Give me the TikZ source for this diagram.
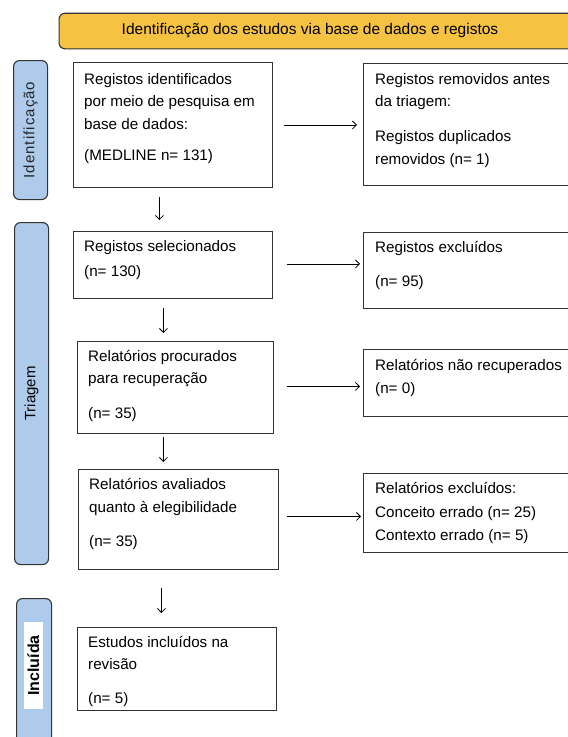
\documentclass[tikz,border=0pt]{standalone}
\usepackage{fontspec}
\setmainfont{Liberation Sans}
\newfontfamily\spacedfont[LetterSpace=7]{Liberation Sans}
\usetikzlibrary{arrows.meta,calc}
\definecolor{bannerfill}{HTML}{F5C242}
\definecolor{sidefill}{HTML}{AECBEB}
\definecolor{edge}{HTML}{333333}
\begin{document}
\begin{tikzpicture}[x=1pt,y=-1pt,
  box/.style={draw=edge, line width=0.9pt, rectangle, anchor=north west, inner sep=0pt, fill=white},
  sidebox/.style={draw=edge, line width=1.1pt, rounded corners=6pt, fill=sidefill},
  txt/.style={anchor=base west, inner sep=0pt, font=\fontsize{15.2}{18}\selectfont},
  sidetxt/.style={rotate=90, inner sep=0pt, font=\fontsize{15}{18}\selectfont},
  arr/.style={-{Straight Barb[length=4pt,width=8pt]}, line width=0.8pt, draw=black}]
\clip (0,0) rectangle (568,737);
\fill[white] (0,0) rectangle (568,737);
% banner
\node[sidebox, fill=bannerfill, anchor=north west, minimum width=560pt, minimum height=35.6pt, inner sep=0pt] (banner) at (58.5,12.7) {};
\node[txt, anchor=center, font=\fontsize{15.5}{18}\selectfont] (bannertxt) at (310,30.5) {Identificação dos estudos via base de dados e registos};
% side labels
\node[sidebox, anchor=north west, minimum width=34pt, minimum height=139pt, inner sep=0pt] (sideI) at (13,60) {};
\node[sidetxt, font=\fontsize{15}{18}\spacedfont, text=black!85] at (sideI.center) {Identificação};
\node[sidebox, anchor=north west, minimum width=34pt, minimum height=342pt, inner sep=0pt] (sideT) at (14,222) {};
\node[sidetxt] at (sideT.center) {Triagem};
\node[sidebox, anchor=north west, minimum width=35pt, minimum height=170pt, inner sep=0pt] (sideN) at (16,598) {};
\node[fill=white, inner sep=0pt, minimum width=18.5pt, minimum height=87pt] (sideNw) at (33.25,665.5) {};
\node[sidetxt, font=\fontsize{16}{18}\selectfont\bfseries] at (sideNw.center) {Incluída};
% boxes
\node[box, minimum width=199pt, minimum height=125pt] (L1) at (73,62) {};
\node[box, minimum width=240pt, minimum height=122pt] (R1) at (363,63) {};
\node[box, minimum width=199pt, minimum height=67pt] (L2) at (73,231) {};
\node[box, minimum width=240pt, minimum height=76pt] (R2) at (363,232) {};
\node[box, minimum width=196pt, minimum height=92pt] (L3) at (77,341) {};
\node[box, minimum width=240pt, minimum height=67pt] (R3) at (363,349) {};
\node[box, minimum width=200pt, minimum height=100pt] (L4) at (78,469) {};
\node[box, minimum width=240pt, minimum height=79pt] (R4) at (363,473) {};
\node[box, minimum width=199pt, minimum height=83pt] (L5) at (77,627) {};
% texts
\node[txt] at (84,84) {Registos identificados};
\node[txt] at (84,106) {por meio de pesquisa em};
\node[txt] at (84,129) {base de dados:};
\node[txt] at (84,160) {(MEDLINE n= 131)};
\node[txt] at (375,84) {Registos removidos antes};
\node[txt] at (375,106) {da triagem:};
\node[txt] at (375,141) {Registos duplicados};
\node[txt] at (375,164) {removidos (n= 1)};
\node[txt] at (84,251) {Registos selecionados};
\node[txt] at (84,276) {(n= 130)};
\node[txt] at (375,252) {Registos excluídos};
\node[txt] at (375,286) {(n= 95)};
\node[txt] at (88,361) {Relatórios procurados};
\node[txt] at (88,383) {para recuperação};
\node[txt] at (88,418) {(n= 35)};
\node[txt] at (375,370) {Relatórios não recuperados};
\node[txt] at (375,393) {(n= 0)};
\node[txt] at (89,489) {Relatórios avaliados};
\node[txt] at (89,512) {quanto à elegibilidade};
\node[txt] at (89,546) {(n= 35)};
\node[txt] at (375,493) {Relatórios excluídos:};
\node[txt] at (375,517) {Conceito errado (n= 25)};
\node[txt] at (375,540) {Contexto errado (n= 5)};
\node[txt] at (88,647) {Estudos incluídos na};
\node[txt] at (88,669) {revisão};
\node[txt] at (88,703) {(n= 5)};
% horizontal arrows
\draw[arr] ($(L1.east)+(11,0)$) -- ($(L1.east -| R1.west)+(-6,0)$);
\draw[arr] ($(L2.east)+(14,-1)$) -- ($(L2.east -| R2.west)+(-3,-1)$);
\draw[arr] ($(L3.east)+(13,-1)$) -- ($(L3.east -| R3.west)+(-3,-1)$);
\draw[arr] ($(L4.east)+(8,-3)$) -- ($(L4.east -| R4.west)+(-2,-3)$);
% vertical arrows
\draw[arr] ($(L1.south)+(-13.5,9)$) -- ($(L1.south |- L2.north)+(-13.5,-11)$);
\draw[arr] ($(L2.south)+(-9.5,9)$) -- ($(L2.south |- L3.north)+(-9.5,-8)$);
\draw[arr] ($(L3.south)+(-12,3)$) -- ($(L3.south |- L4.north)+(-12,-7)$);
\draw[arr] ($(L4.south)+(-17,18)$) -- ($(L4.south |- L5.north)+(-17,-14)$);
\end{tikzpicture}
\end{document}
